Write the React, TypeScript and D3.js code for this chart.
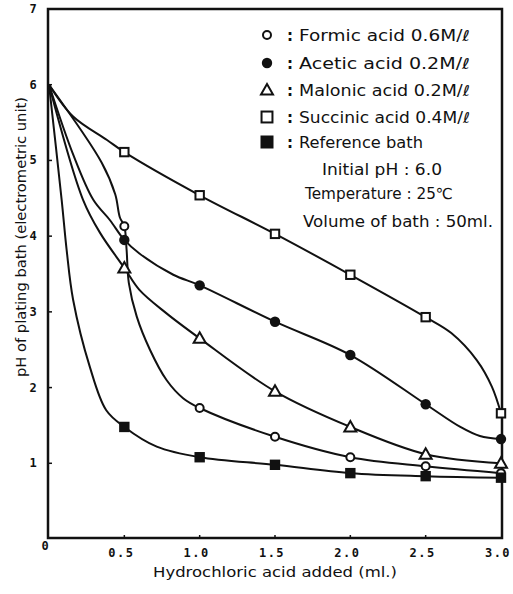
import React from "react";
import * as d3 from "d3";

// HCl added (ml) at which markers are drawn
const X_VALUES = [0, 0.5, 1.0, 1.5, 2.0, 2.5, 3.0];
// pH readings per bath
const FORMIC = [6.0, 4.13, 1.73, 1.35, 1.08, 0.96, 0.87];
const ACETIC = [6.0, 3.95, 3.35, 2.87, 2.43, 1.78, 1.32];
const MALONIC = [6.0, 3.58, 2.65, 1.95, 1.48, 1.12, 1.0];
const SUCCINIC = [6.0, 5.11, 4.54, 4.03, 3.49, 2.93, 1.66];
const REFERENCE = [6.0, 1.48, 1.08, 0.98, 0.87, 0.83, 0.81];

// extra points (between markers)
const FORMIC_TRACE: [number, number][] = [[0.35, 4.97], [0.44, 4.55], [0.47, 4.25], [0.515, 3.82], [0.53, 3.38], [0.582, 2.94], [0.67, 2.5], [0.78, 2.1], [0.89, 1.86]];
const ACETIC_TRACE: [number, number][] = [[0.16, 5.08], [0.294, 4.48], [0.405, 4.21], [0.6, 3.77], [0.825, 3.49], [2.73, 1.48], [2.86, 1.36]];
const MALONIC_TRACE: [number, number][] = [[0.226, 4.48], [0.34, 4.04], [0.6, 3.29], [0.78, 2.98]];
const SUCCINIC_TRACE: [number, number][] = [[0.16, 5.58], [0.385, 5.27], [2.67, 2.72], [2.84, 2.36], [2.94, 2.01]];
const REFERENCE_TRACE: [number, number][] = [[0.084, 4.48], [0.117, 3.82], [0.16, 3.16], [0.27, 2.28], [0.38, 1.7], [0.715, 1.22]];

const SERIES_LABELS = ["Formic acid 0.6M/ℓ", "Acetic acid 0.2M/ℓ", "Malonic acid 0.2M/ℓ", "Succinic acid 0.4M/ℓ", "Reference bath"];
const X_TICKS = [0, 0.5, 1.0, 1.5, 2.0, 2.5, 3.0];
const X_TICK_LABELS = ["0", "0.5", "1.0", "1.5", "2.0", "2.5", "3.0"];
const Y_TICKS = [1, 2, 3, 4, 5, 6, 7];
const NOTES = ["Initial pH : 6.0", "Temperature : 25℃", "Volume of bath : 50ml."];

type MarkerKind = "circleOpen" | "circleFilled" | "triangle" | "squareOpen" | "squareFilled";

const series: { values: number[]; trace: [number, number][]; marker: MarkerKind }[] = [
  { values: FORMIC, trace: FORMIC_TRACE, marker: "circleOpen" },
  { values: ACETIC, trace: ACETIC_TRACE, marker: "circleFilled" },
  { values: MALONIC, trace: MALONIC_TRACE, marker: "triangle" },
  { values: SUCCINIC, trace: SUCCINIC_TRACE, marker: "squareOpen" },
  { values: REFERENCE, trace: REFERENCE_TRACE, marker: "squareFilled" },
];

const INK = "#111";
const FONT = "'DejaVu Sans', sans-serif";
const MONO = "'DejaVu Sans Mono', monospace";

function Marker({ kind, cx, cy, scale = 1 }: { kind: MarkerKind; cx: number; cy: number; scale?: number }) {
  const sw = 2;
  switch (kind) {
    case "circleOpen":
      return <circle cx={cx} cy={cy} r={4 * scale} fill="#fff" stroke={INK} strokeWidth={sw} />;
    case "circleFilled":
      return <circle cx={cx} cy={cy} r={5.2 * scale} fill={INK} />;
    case "triangle": {
      const s = 6 * scale;
      return (
        <path
          d={`M${cx},${cy - s} L${cx + s},${cy + s * 0.75} L${cx - s},${cy + s * 0.75} Z`}
          fill="#fff"
          stroke={INK}
          strokeWidth={sw}
        />
      );
    }
    case "squareOpen": {
      const s = 4.2 * scale;
      return <rect x={cx - s} y={cy - s} width={2 * s} height={2 * s} fill="#fff" stroke={INK} strokeWidth={sw} />;
    }
    case "squareFilled": {
      const s = 5.2 * scale;
      return <rect x={cx - s} y={cy - s} width={2 * s} height={2 * s} fill={INK} />;
    }
  }
}

export default function App() {
  const W = 513;
  const H = 594;
  const x = d3.scaleLinear().domain([0, 3]).range([49, 501]);
  const y = d3.scaleLinear().domain([0, 7]).range([539, 9]);

  const line = d3
    .line<[number, number]>()
    .x((d) => x(d[0]))
    .y((d) => y(d[1]))
    .curve(d3.curveCatmullRom.alpha(0.5));

  const legendRowY = [35, 63, 90, 117, 142];

  return (
    <svg width={W} height={H} style={{ position: "absolute", left: 0, top: 0, background: "#fff" }}>
      <rect x={0} y={0} width={W} height={H} fill="#fff" />
      {/* frame */}
      <rect x={x(0) - 1} y={y(7)} width={x(3) - x(0) + 2} height={y(0) - y(7) - 1} fill="none" stroke={INK} strokeWidth={2.5} />
      {/* ticks */}
      {X_TICKS.slice(1, -1).map((t) => (
        <line key={"xt" + t} x1={x(t)} x2={x(t)} y1={y(0) - 1} y2={y(0) - 4} stroke={INK} strokeWidth={1.5} />
      ))}
      {Y_TICKS.slice(0, -1).map((t) => (
        <line key={"yt" + t} x1={x(0)} x2={x(0) + 3} y1={y(t)} y2={y(t)} stroke={INK} strokeWidth={1.5} />
      ))}
      {/* tick labels */}
      {X_TICKS.map((t, i) => (
        <text
          key={"xl" + t}
          x={i === 0 ? 45 : x(t) - 3}
          y={i === 0 ? 550 : 557}
          fontFamily={MONO}
          fontWeight="bold"
          fontSize={12}
          letterSpacing={i === 0 ? 0 : 1.5}
          textAnchor="middle"
          fill={INK}
        >
          {X_TICK_LABELS[i]}
        </text>
      ))}
      {Y_TICKS.map((t) => (
        <text key={"yl" + t} x={33} y={y(t) + 4} fontFamily={MONO} fontWeight="bold" fontSize={12} textAnchor="middle" fill={INK}>
          {t}
        </text>
      ))}
      {/* axis titles */}
      <text x={275} y={577} fontFamily={FONT} fontSize={14} textAnchor="middle" textLength={244} lengthAdjust="spacingAndGlyphs" fill={INK}>
        Hydrochloric acid added (ml.)
      </text>
      <text
        transform="translate(26,237) rotate(-90)"
        fontFamily={FONT}
        fontSize={14}
        textAnchor="middle"
        textLength={280}
        lengthAdjust="spacingAndGlyphs"
        fill={INK}
      >
        pH of plating bath (electrometric unit)
      </text>
      {/* curves */}
      {series.map((s, i) => {
        const pts: [number, number][] = X_VALUES.map((xv, j) => [xv, s.values[j]] as [number, number])
          .concat(s.trace)
          .sort((a, b) => a[0] - b[0]);
        return <path key={"c" + i} d={line(pts) || ""} fill="none" stroke={INK} strokeWidth={2} />;
      })}
      {/* markers */}
      {series.map((s, i) =>
        X_VALUES.slice(1).map((xv, j) => (
          <Marker key={`m${i}-${j}`} kind={s.marker} cx={x(xv)} cy={y(s.values[j + 1])} />
        ))
      )}
      {/* legend */}
      {series.map((s, i) => (
        <g key={"lg" + i}>
          <Marker kind={s.marker} cx={267} cy={legendRowY[i]} scale={s.marker === "squareFilled" ? 1.25 : s.marker === "squareOpen" ? 1.3 : 1} />
          <text x={290} y={legendRowY[i] + 6} fontFamily={FONT} fontSize={15} fontWeight="bold" textAnchor="middle" fill={INK}>
            :
          </text>
          <text
            x={299}
            y={legendRowY[i] + 6}
            fontFamily={FONT}
            fontSize={15}
            textLength={i === 4 ? 124 : 171}
            lengthAdjust="spacingAndGlyphs"
            fill={INK}
          >
            {SERIES_LABELS[i]}
          </text>
        </g>
      ))}
      <text x={322} y={175} fontFamily={FONT} fontSize={15} textLength={120} lengthAdjust="spacingAndGlyphs" fill={INK}>
        {NOTES[0]}
      </text>
      <text x={305} y={199} fontFamily={FONT} fontSize={15} textLength={148} lengthAdjust="spacingAndGlyphs" fill={INK}>
        {NOTES[1]}
      </text>
      <text x={303} y={227} fontFamily={FONT} fontSize={15} textLength={190} lengthAdjust="spacingAndGlyphs" fill={INK}>
        {NOTES[2]}
      </text>
    </svg>
  );
}
